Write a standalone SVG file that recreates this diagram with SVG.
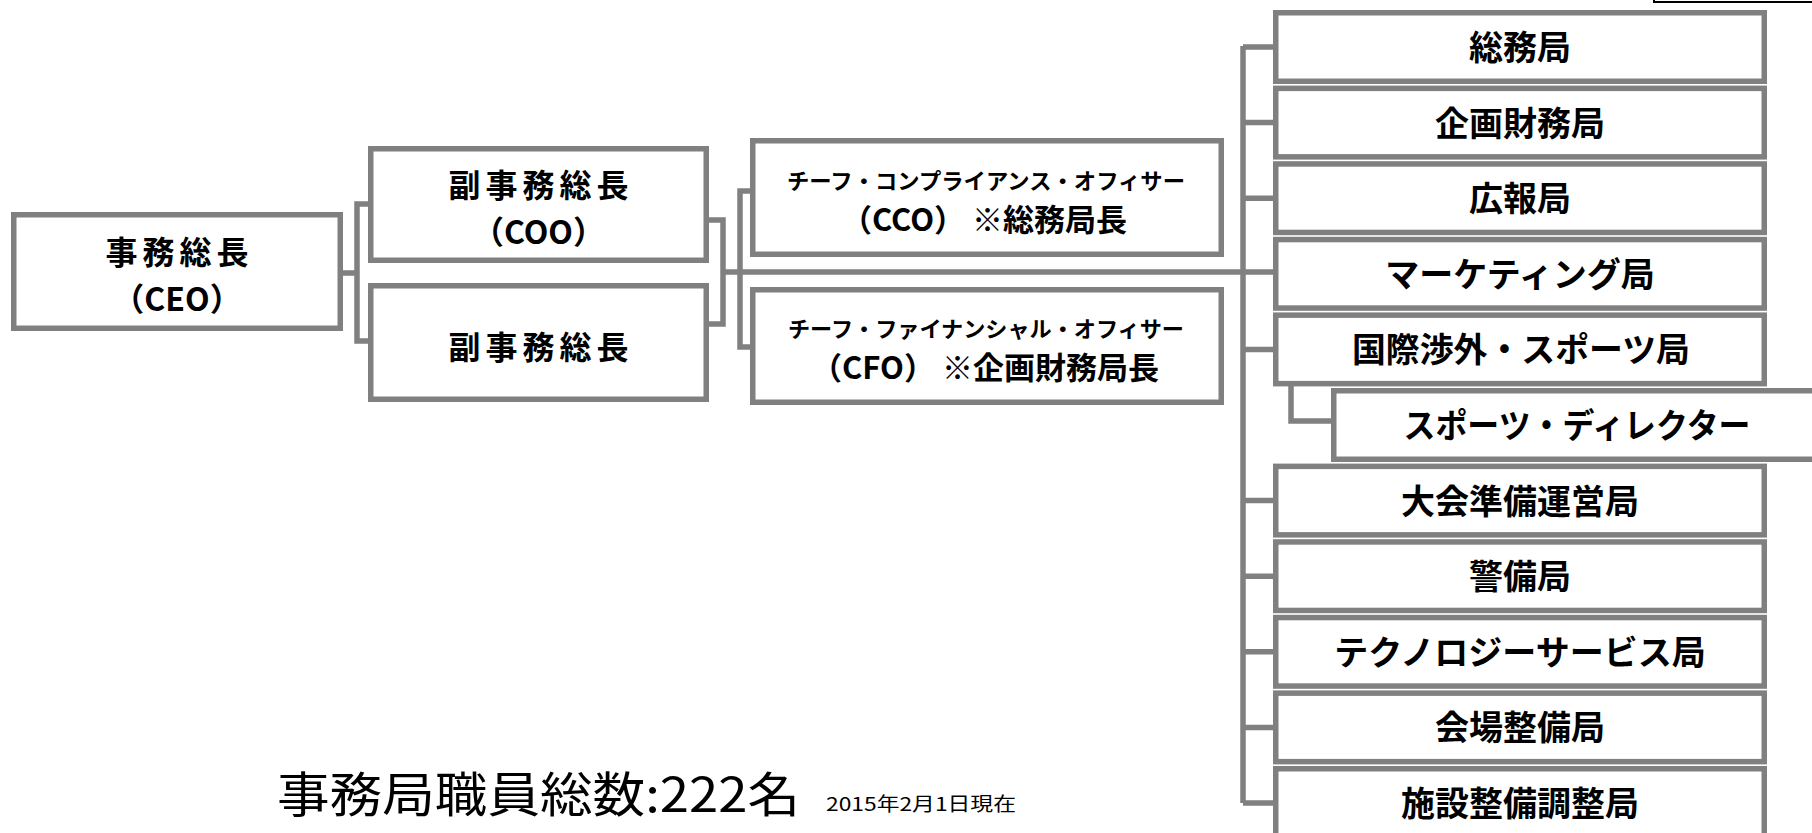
<svg xmlns="http://www.w3.org/2000/svg" width="1812" height="833" viewBox="0 0 1812 833">
<style>
.box{fill:#fff;stroke:#808080;stroke-width:5.5}
.con{fill:none;stroke:#808080;stroke-width:5.5}
text{font-family:"Noto Sans CJK JP","Noto Sans",sans-serif;fill:#000;text-anchor:middle}
.b{font-weight:700}
.t32{font-size:32px}
.ls{letter-spacing:5px}
.t31{font-size:31px}
.t22{font-size:22px}
.dept{font-size:34px;font-weight:700}
</style>
<rect x="0" y="0" width="1812" height="833" fill="#fff"/>
<rect x="1654" y="-30" width="200" height="32" fill="#fff" stroke="#000" stroke-width="2"/>
<g id="connectors">
<path class="con" d="M343,273 H357 M368,204 H357 V341 H368"/>
<path class="con" d="M709,220 H723 V324 H709 M723,272 H1273"/>
<path class="con" d="M750,191 H740 V347 H750"/>
<path class="con" d="M1243,46 V803"/>
<path class="con" d="M1243,47 H1273 M1243,122.6 H1273 M1243,198.2 H1273 M1243,349.4 H1273 M1243,500.6 H1273 M1243,576.2 H1273 M1243,651.8 H1273 M1243,727.4 H1273 M1243,803 H1273"/>
<path class="con" d="M1291,384 V421 H1331"/>
</g>
<g id="ceo">
<rect class="box" x="13.75" y="214.75" width="326.5" height="113.5"/>
<text class="b t32 ls" x="179.5" y="264">事務総長</text>
<text class="b t32" x="177" y="311">（CEO）</text>
</g>
<g id="coo">
<rect class="box" x="370.75" y="148.75" width="335.5" height="111.5"/>
<text class="b t32 ls" x="541" y="197">副事務総長</text>
<text class="b t32" x="538.5" y="244">（COO）</text>
</g>
<g id="vp2">
<rect class="box" x="370.75" y="285.75" width="335.5" height="113.5"/>
<text class="b t32 ls" x="541" y="359">副事務総長</text>
</g>
<g id="cco">
<rect class="box" x="752.75" y="140.75" width="468.5" height="113.5"/>
<text class="b t22" x="986" y="189" textLength="398" lengthAdjust="spacingAndGlyphs">チーフ・コンプライアンス・オフィサー</text>
<text class="b t31" x="984" y="231">（CCO） ※総務局長</text>
</g>
<g id="cfo">
<rect class="box" x="752.75" y="289.75" width="468.5" height="112.5"/>
<text class="b t22" x="986" y="337" textLength="396" lengthAdjust="spacingAndGlyphs">チーフ・ファイナンシャル・オフィサー</text>
<text class="b t31" x="985" y="379">（CFO） ※企画財務局長</text>
</g>
<g id="d1">
<rect class="box" x="1275.75" y="12.75" width="488.5" height="68.5"/>
<text class="dept" x="1520" y="60">総務局</text>
</g>
<g id="d2">
<rect class="box" x="1275.75" y="88.35" width="488.5" height="68.5"/>
<text class="dept" x="1520" y="135.6">企画財務局</text>
</g>
<g id="d3">
<rect class="box" x="1275.75" y="163.95" width="488.5" height="68.5"/>
<text class="dept" x="1520" y="211.2">広報局</text>
</g>
<g id="d4">
<rect class="box" x="1275.75" y="239.55" width="488.5" height="68.5"/>
<text class="dept" x="1520" y="286.8">マーケティング局</text>
</g>
<g id="d5">
<rect class="box" x="1275.75" y="315.15" width="488.5" height="68.5"/>
<text class="dept" x="1521" y="362.4" textLength="338" lengthAdjust="spacingAndGlyphs">国際渉外・スポーツ局</text>
</g>
<g id="d5sub">
<rect class="box" x="1333.75" y="390.75" width="488.5" height="68.5"/>
<text class="dept" x="1577" y="438" textLength="347" lengthAdjust="spacingAndGlyphs">スポーツ・ディレクター</text>
</g>
<g id="d6">
<rect class="box" x="1275.75" y="466.35" width="488.5" height="68.5"/>
<text class="dept" x="1520" y="513.6">大会準備運営局</text>
</g>
<g id="d7">
<rect class="box" x="1275.75" y="541.95" width="488.5" height="68.5"/>
<text class="dept" x="1520" y="589.2">警備局</text>
</g>
<g id="d8">
<rect class="box" x="1275.75" y="617.55" width="488.5" height="68.5"/>
<text class="dept" x="1520" y="664.8">テクノロジーサービス局</text>
</g>
<g id="d9">
<rect class="box" x="1275.75" y="693.15" width="488.5" height="68.5"/>
<text class="dept" x="1520" y="740.4">会場整備局</text>
</g>
<g id="d10">
<rect class="box" x="1275.75" y="768.75" width="488.5" height="68.5"/>
<text class="dept" x="1520" y="816">施設整備調整局</text>
</g>
<g id="footer">
<text x="277" y="812" style="text-anchor:start;font-size:48px" textLength="523" lengthAdjust="spacingAndGlyphs">事務局職員総数:222名</text>
<text x="826" y="811" style="text-anchor:start;font-size:19px" textLength="190" lengthAdjust="spacingAndGlyphs">2015年2月1日現在</text>
</g>
</svg>
